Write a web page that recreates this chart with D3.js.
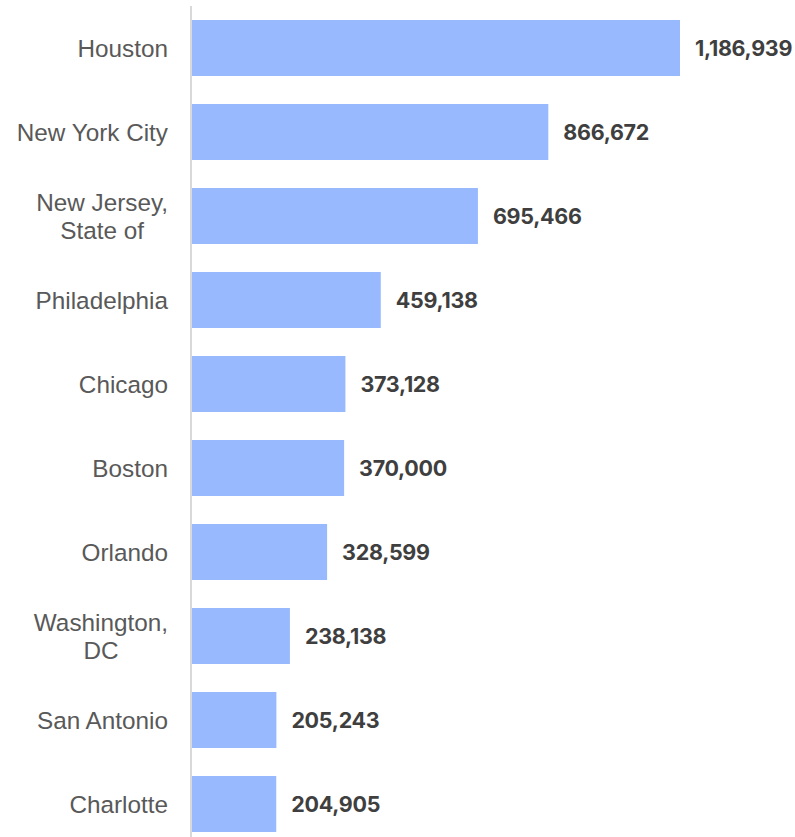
<!DOCTYPE html>
<html>
<head>
<meta charset="utf-8">
<script src="https://cdn.jsdelivr.net/npm/d3@7/dist/d3.min.js"></script>
<style>
  html, body { margin: 0; padding: 0; background: #fff; }
  svg { display: block; }
</style>
</head>
<body>
<svg id="chart" width="795" height="837"></svg>
<script>
// Categories (top to bottom); "\n" splits a label over two lines
const categories = [
  "Houston",
  "New York City",
  "New Jersey,\nState of",
  "Philadelphia",
  "Chicago",
  "Boston",
  "Orlando",
  "Washington,\nDC",
  "San Antonio",
  "Charlotte"
];
const values = [1186939, 866672, 695466, 459138, 373128, 370000, 328599, 238138, 205243, 204905];

const width = 795, height = 837;
const axisX = 191;
const labelRight = 168;

const svg = d3.select("#chart");

const x = d3.scaleLinear()
  .domain([0, 1186939])
  .range([192, 680]);

const y = d3.scaleBand()
  .domain(categories)
  .range([6, 846])
  .paddingInner(1 / 3)
  .paddingOuter(1 / 6);

const fmt = d3.format(",");

// bars
svg.append("g")
  .selectAll("rect")
  .data(categories)
  .join("rect")
  .attr("x", x(0))
  .attr("y", d => y(d))
  .attr("width", (d, i) => x(values[i]) - x(0))
  .attr("height", y.bandwidth())
  .attr("fill", "#98b9fe");

// vertical baseline
svg.append("line")
  .attr("x1", axisX).attr("x2", axisX)
  .attr("y1", 6).attr("y2", height)
  .attr("stroke", "#d9d9d9")
  .attr("stroke-width", 2);

// category labels: block right-aligned to the axis, lines centred within the block
const lineH = 28;
const cat = svg.append("g")
  .selectAll("text")
  .data(categories)
  .join("text")
  .attr("text-anchor", "middle")
  .attr("font-family", "'Liberation Sans', Arial, sans-serif")
  .attr("font-size", 24.3)
  .attr("fill", "#595959");

cat.each(function (d) {
  const lines = d.split("\n");
  const cy = y(d) + y.bandwidth() / 2;
  const t = d3.select(this);
  const spans = lines.map((ln, k) =>
    t.append("tspan")
      .attr("y", cy + (k - (lines.length - 1) / 2) * lineH)
      .attr("dy", "0.35em")
      .text(ln)
  );
  const maxW = d3.max(spans, s => s.node().getComputedTextLength());
  spans.forEach(s => s.attr("x", labelRight - maxW / 2));
});

// value labels
svg.append("g")
  .selectAll("text")
  .data(categories)
  .join("text")
  .attr("x", (d, i) => x(values[i]) + 15)
  .attr("y", d => y(d) + y.bandwidth() / 2)
  .attr("dy", "0.35em")
  .attr("font-family", "Inter, 'Open Sans', sans-serif")
  .attr("font-weight", 700)
  .attr("font-size", 21.5)
  .attr("letter-spacing", "-0.3px")
  .attr("fill", "#3f3f3f")
  .text((d, i) => fmt(values[i]));
</script>
</body>
</html>
